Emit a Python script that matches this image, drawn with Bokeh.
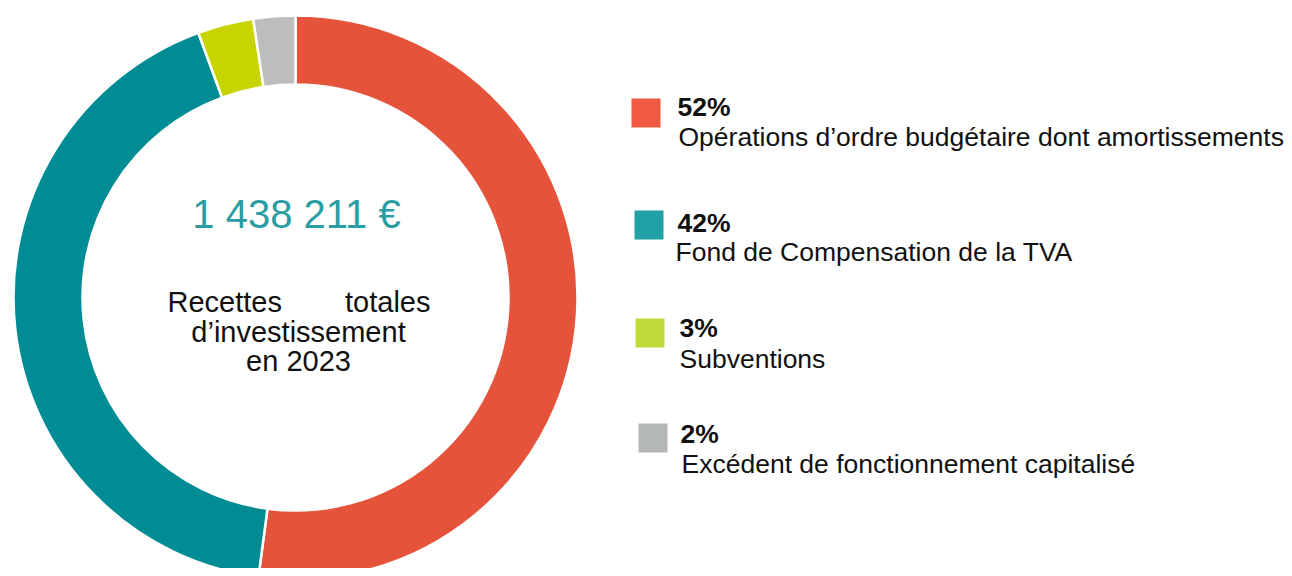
import math
from bokeh.plotting import figure
from bokeh.models import Range1d, ColumnDataSource
from bokeh.core.properties import value
from bokeh.embed import file_html
from bokeh.resources import INLINE

# ---- data ----
categories = [
    "Opérations d’ordre budgétaire dont amortissements",
    "Fond de Compensation de la TVA",
    "Subventions",
    "Excédent de fonctionnement capitalisé",
]
shares = [52.1, 42.3, 3.2, 2.4]
pct_labels = ["52%", "42%", "3%", "2%"]
total_label = "1 438 211 €"
title_lines = ["Recettes", "totales", "d’investissement", "en 2023"]

# ---- styles ----
slice_colors = ["#E5533B", "#008C94", "#C8D400", "#BDBDBD"]
legend_colors = ["#F05A40", "#21A0A5", "#C2D93A", "#B4B7B8"]
FONT = "Liberation Sans"

W, H = 1284, 568
H_REF = 576  # reference pixel frame height
TXT_SHIFT = 9  # compensate text baseline rendering offset

def Y(y):
    return H_REF - y

def YT(y):
    return H_REF - (y - TXT_SHIFT)

p = figure(width=W, height=H, output_backend="svg", toolbar_location=None,
           x_range=Range1d(0, W), y_range=Range1d(Y(H), Y(0)),
           min_border=0, outline_line_color=None)
p.axis.visible = False
p.grid.visible = False
p.background_fill_color = "white"
p.border_fill_color = "white"

# ---- donut ----
cx, cy = 295, Y(297)
r_in, r_out = 213, 282
tot = sum(shares)
starts, ends = [], []
acc = 0.0
for s in shares:
    starts.append(math.pi / 2 - 2 * math.pi * acc / tot)
    acc += s
    ends.append(math.pi / 2 - 2 * math.pi * acc / tot)

src = ColumnDataSource(dict(start=starts, end=ends, color=slice_colors, cat=categories, share=shares))
p.annular_wedge(x=cx, y=cy, inner_radius=r_in, outer_radius=r_out,
                start_angle="start", end_angle="end", direction="clock",
                fill_color="color", line_color="white", line_width=2.5, source=src)

# ---- center text ----
p.text(x=[296], y=[YT(222)], text=[total_label], text_font=value(FONT),
       text_font_size="40px", text_color="#2A9DA3", text_align="center",
       text_baseline="alphabetic")
p.text(x=[167], y=[YT(310)], text=[title_lines[0]], text_font=value(FONT),
       text_font_size="29px", text_color="#111111", text_align="left",
       text_baseline="alphabetic")
p.text(x=[430], y=[YT(310)], text=[title_lines[1]], text_font=value(FONT),
       text_font_size="29px", text_color="#111111", text_align="right",
       text_baseline="alphabetic")
p.text(x=[298, 298], y=[YT(340), YT(369)], text=title_lines[2:], text_font=value(FONT),
       text_font_size="29px", text_color="#111111", text_align="center",
       text_baseline="alphabetic")

# ---- legend ----
sq_left = [631, 634, 635, 638]
sq_top = [98, 210, 318, 423]
sq_size = 29
pct_x = [677, 677, 679, 680]
pct_base = [115, 231, 336, 442]
desc_x = [678, 675, 679, 681]
desc_base = [145, 260, 367, 472]

p.quad(left=sq_left, right=[v + sq_size for v in sq_left],
       top=[Y(v) for v in sq_top], bottom=[Y(v + sq_size) for v in sq_top],
       fill_color=legend_colors, line_color=None)
p.text(x=pct_x, y=[YT(v) for v in pct_base], text=pct_labels, text_font=value(FONT),
       text_font_size="26.5px", text_font_style="bold", text_color="#111111",
       text_baseline="alphabetic")
p.text(x=desc_x, y=[YT(v) for v in desc_base], text=categories, text_font=value(FONT),
       text_font_size="26.5px", text_color="#111111", text_baseline="alphabetic")

open("out.html", "w").write(file_html(p, INLINE))
